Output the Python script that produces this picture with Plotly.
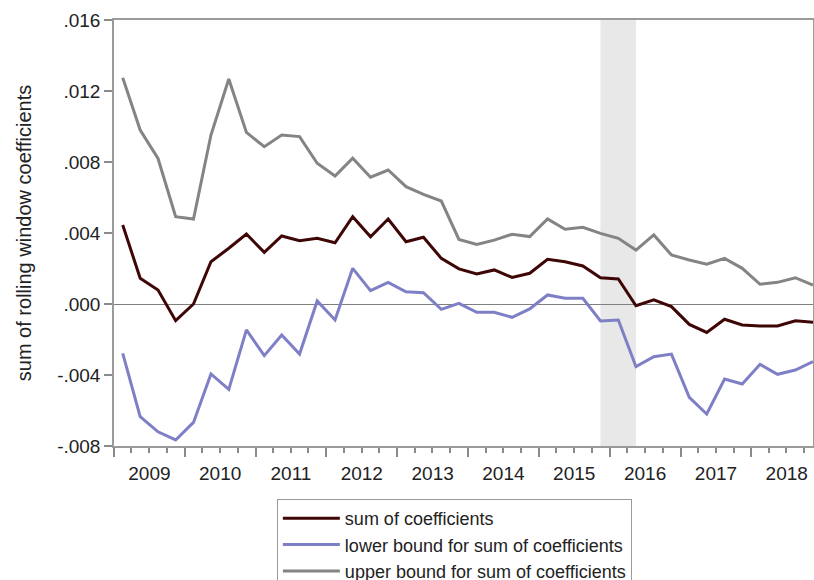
import plotly.graph_objects as go

# Quarterly observations 2009Q1 .. 2018Q4
years = list(range(2009, 2019))
quarters = [f"{y}Q{q}" for y in years for q in range(1, 5)]
quarter_mid = {"1": "02-15", "2": "05-16", "3": "08-16", "4": "11-15"}
dates = [f"{q[:4]}-{quarter_mid[q[-1]]}" for q in quarters]

sum_coef = [0.00445, 0.00145, 0.00079, -0.00094, 0.00000, 0.00238, 0.00314, 0.00394,
            0.00291, 0.00383, 0.00357, 0.00370, 0.00345, 0.00492, 0.00379, 0.00479,
            0.00351, 0.00376, 0.00257, 0.00198, 0.00169, 0.00192, 0.00150, 0.00173,
            0.00252, 0.00238, 0.00214, 0.00148, 0.00141, -0.00010, 0.00023, -0.00015,
            -0.00115, -0.00160, -0.00086, -0.00118, -0.00124, -0.00124, -0.00094, -0.00103]

lower_bound = [-0.00278, -0.00635, -0.00720, -0.00766, -0.00667, -0.00394, -0.00481, -0.00146,
               -0.00291, -0.00175, -0.00282, 0.00017, -0.00090, 0.00201, 0.00075, 0.00122,
               0.00069, 0.00064, -0.00030, 0.00004, -0.00047, -0.00047, -0.00075, -0.00028,
               0.00051, 0.00032, 0.00032, -0.00096, -0.00090, -0.00353, -0.00297, -0.00282,
               -0.00526, -0.00620, -0.00423, -0.00451, -0.00340, -0.00396, -0.00372, -0.00325]

upper_bound = [0.01275, 0.00980, 0.00820, 0.00492, 0.00479, 0.00952, 0.01268, 0.00967,
               0.00886, 0.00952, 0.00943, 0.00793, 0.00721, 0.00821, 0.00714, 0.00755,
               0.00661, 0.00618, 0.00580, 0.00364, 0.00336, 0.00360, 0.00393, 0.00380,
               0.00479, 0.00421, 0.00432, 0.00398, 0.00370, 0.00304, 0.00389, 0.00276,
               0.00248, 0.00224, 0.00257, 0.00201, 0.00111, 0.00122, 0.00148, 0.00107]

shade_from, shade_to = "2015Q4", "2016Q2"

y_tickvals = [-0.008, -0.004, 0.0, 0.004, 0.008, 0.012, 0.016]
y_ticktext = ["-.008", "-.004", ".000", ".004", ".008", ".012", ".016"]

names = ["sum of coefficients", "lower bound for sum of coefficients",
         "upper bound for sum of coefficients"]
colors = ["#3f0606", "#7f7fc6", "#848484"]

FONT = "Liberation Sans, Arial, sans-serif"

fig = go.Figure()
for vals, name, col in zip([sum_coef, lower_bound, upper_bound], names, colors):
    fig.add_trace(go.Scatter(x=dates, y=vals, mode="lines", name=name,
                             line=dict(color=col, width=3)))

fig.add_vrect(x0=dates[quarters.index(shade_from)], x1=dates[quarters.index(shade_to)],
              fillcolor="#e8e8e8", opacity=1, line_width=0, layer="below")

fig.update_layout(
    template="none",
    width=814, height=580,
    margin=dict(l=114, r=1, t=20, b=134, autoexpand=False),
    paper_bgcolor="white", plot_bgcolor="white",
    font=dict(family=FONT, size=19, color="#222222"),
    showlegend=True,
    legend=dict(x=0.233, y=-0.1244, xanchor="left", yanchor="top",
                bordercolor="#9a9a9a", borderwidth=1, bgcolor="white",
                font=dict(size=18, color="#222222"), tracegroupgap=0,
                itemwidth=57),
    xaxis=dict(type="date", range=["2009-01-01", "2018-11-15"],
               tick0="2009-01-01", dtick="M12", tickformat="%Y",
               ticklabelmode="period", ticklabeloverflow="allow",
               ticks="outside", ticklen=9,
               tickcolor="#8a8a8a", tickwidth=1.5, automargin=False,
               showline=True, linecolor="#9a9a9a", linewidth=1.5, mirror=True,
               showgrid=False, zeroline=False,
               minor=dict(dtick="M3", ticks="outside", ticklen=5,
                          tickcolor="#8a8a8a", tickwidth=1.5, showgrid=False)),
    yaxis=dict(range=[-0.008, 0.016], tickvals=y_tickvals, ticktext=y_ticktext,
               ticks="outside", ticklen=8, tickcolor="#8a8a8a", tickwidth=1.5,
               showline=True, linecolor="#9a9a9a", linewidth=1.5, mirror=True,
               showgrid=False, zeroline=True, zerolinecolor="#808080",
               zerolinewidth=1, automargin=True,
               title=dict(text="sum of rolling window coefficients",
                          font=dict(size=20, color="#222222"), standoff=20)),
)

fig.write_html("out.html", config={"displayModeBar": False},
               post_script="document.body.style.margin='0';document.body.style.padding='0';")
